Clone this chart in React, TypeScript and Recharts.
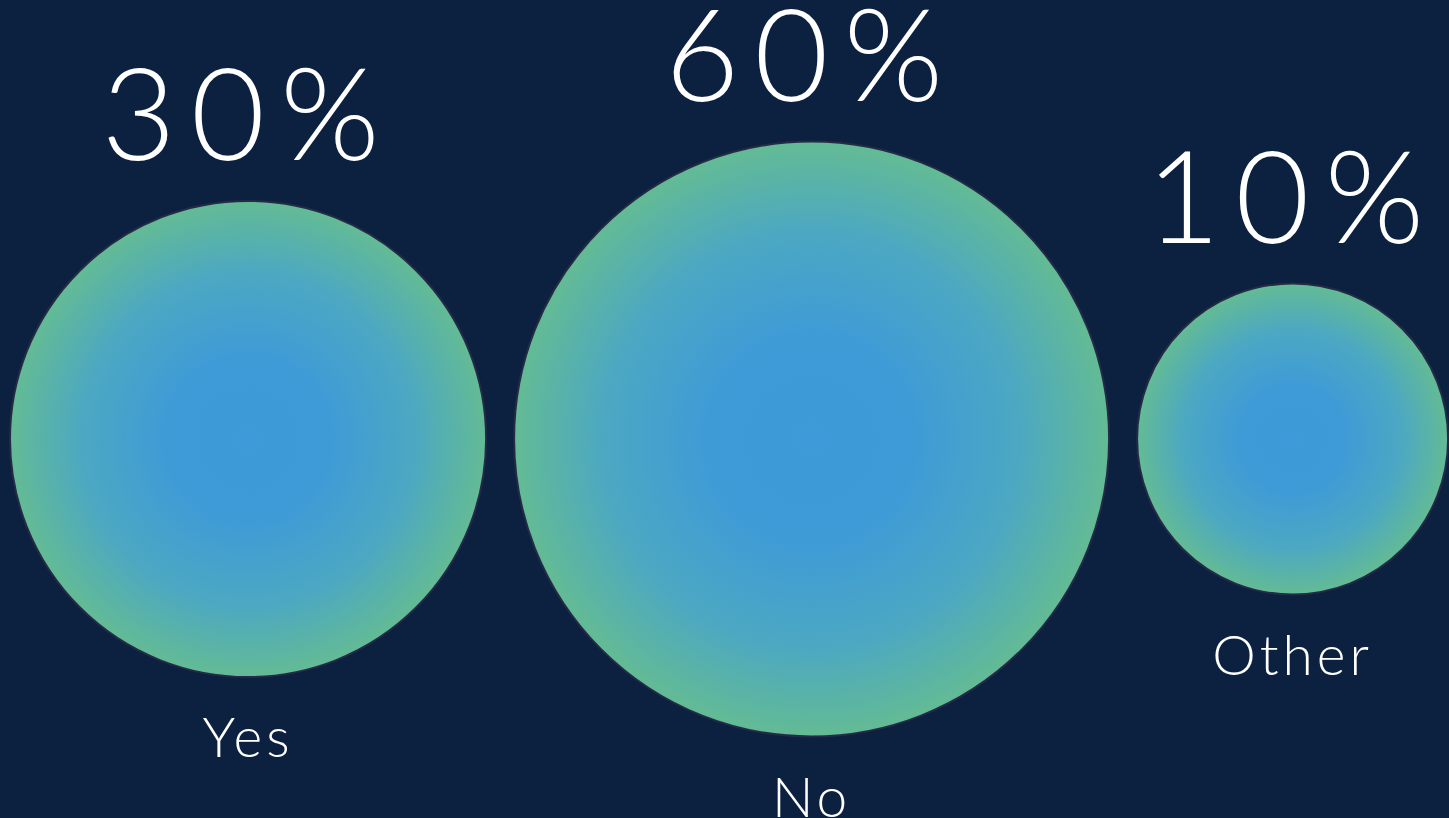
import React from 'react';
import { ScatterChart, Scatter, XAxis, YAxis, ZAxis } from 'recharts';

const categories = ['Yes', 'No', 'Other'];
const values = [30, 60, 10];
const valueLabels = ['30%', '60%', '10%'];

const WIDTH = 1449;
const HEIGHT = 818;
const BG = '#0C2140';
const CENTER_Y = 439;
const GAP = 28;
const START_X = 10;

// ZAxis (bubble area) settings
const Z_DOMAIN: [number, number] = [10, 60];
const Z_RANGE: [number, number] = [Math.PI * 155.5 * 155.5, Math.PI * 297.5 * 297.5];

// replicate sqrt scale to pack bubbles horizontally
const radiusOf = (v: number) => {
  const t = (Math.sqrt(v) - Math.sqrt(Z_DOMAIN[0])) / (Math.sqrt(Z_DOMAIN[1]) - Math.sqrt(Z_DOMAIN[0]));
  const area = Z_RANGE[0] + t * (Z_RANGE[1] - Z_RANGE[0]);
  return Math.sqrt(area / Math.PI);
};

const buildData = () => {
  let cursor = START_X;
  return categories.map((c, i) => {
    const r = radiusOf(values[i]);
    const x = cursor + r;
    cursor = x + r + GAP;
    return { name: c, value: values[i], label: valueLabels[i], x, y: CENTER_Y };
  });
};

const data = buildData();

const Bubble = (props: any) => {
  const { cx, cy, width, size, payload, index } = props;
  const r = width ? width / 2 : Math.sqrt((size || 0) / Math.PI);
  const id = `bubbleGrad${index ?? payload.name}`;
  return (
    <g>
      <defs>
        <radialGradient id={id} cx="50%" cy="50%" r="50%">
          <stop offset="0%" stopColor="#3E9AD8" />
          <stop offset="35%" stopColor="#3F9BD6" />
          <stop offset="70%" stopColor="#4CA8C2" />
          <stop offset="100%" stopColor="#63BB94" />
        </radialGradient>
      </defs>
      <circle cx={cx} cy={cy} r={r} fill={`url(#${id})`} stroke="#252A48" strokeWidth={2} />
      <text
        x={cx}
        y={cy - r - 41}
        textAnchor="middle"
        fill="#FFFFFF"
        fontFamily="Lato, 'Open Sans', sans-serif"
        fontWeight={300}
        fontSize={128}
        letterSpacing={15}
      >
        {payload.label}
      </text>
      <text
        x={cx}
        y={cy + r + 80}
        textAnchor="middle"
        fill="#FFFFFF"
        fontFamily="Lato, 'Open Sans', sans-serif"
        fontWeight={300}
        fontSize={55}
        letterSpacing={4}
      >
        {payload.name}
      </text>
    </g>
  );
};

export default function App() {
  return (
    <div style={{ position: 'absolute', left: 0, top: 0, width: WIDTH, height: HEIGHT, background: BG, overflow: 'hidden' }}>
      <ScatterChart width={WIDTH} height={HEIGHT} margin={{ top: 0, right: 0, bottom: 0, left: 0 }}>
        <XAxis type="number" dataKey="x" domain={[0, WIDTH]} hide />
        <YAxis type="number" dataKey="y" domain={[0, HEIGHT]} reversed hide />
        <ZAxis type="number" dataKey="value" domain={Z_DOMAIN} range={Z_RANGE} scale="sqrt" />
        <Scatter data={data} shape={<Bubble />} isAnimationActive={false} />
      </ScatterChart>
    </div>
  );
}
